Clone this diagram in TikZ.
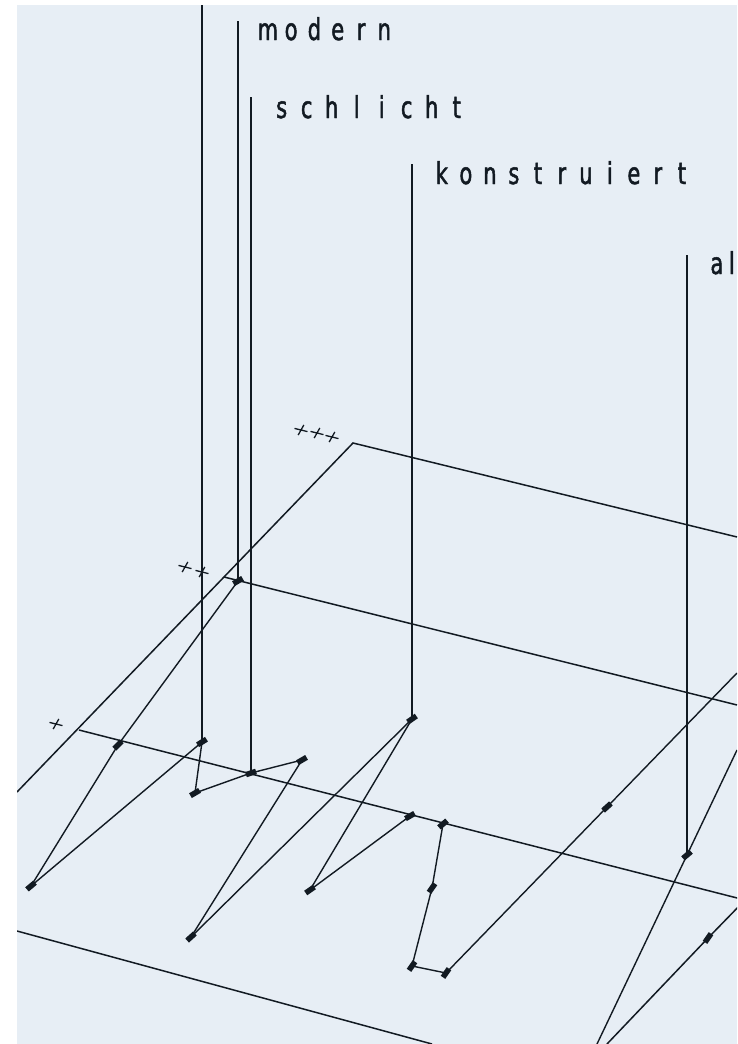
\documentclass[tikz,border=0pt]{standalone}
\usepackage{fontspec}
\newfontfamily\plotfont[FakeStretch=0.7,FakeBold=1.6]{DejaVu Sans}
\usetikzlibrary{calc}
\newlength\cellw
\def\plotchars#1{\ifx#1\relax\else\makebox[\cellw][c]{#1}\expandafter\plotchars\fi}
\newcommand\plotword[2]{\setlength\cellw{#1}\plotchars#2\relax}
\definecolor{bg}{HTML}{E7EEF5}
\definecolor{ink}{HTML}{121A22}
\newcommand\plotplus[1]{\draw[plus] ($(#1)+(-6.5,-1.6)$) -- ($(#1)+(6.5,1.6)$) ($(#1)+(2.8,-5)$) -- ($(#1)+(-2.8,5)$);}
\begin{document}
\begin{tikzpicture}[x=1pt,y=-1pt,
  ln/.style={draw=ink,line width=1.4pt},
  edge/.style={draw=ink,line width=1.5pt},
  mk/.style={rectangle,fill=ink,minimum width=10.5pt,minimum height=5.5pt,inner sep=0pt,rotate=#1},
  mk/.default=38,
  lbl/.style={inner sep=0pt,anchor=base west,text=ink,font=\plotfont\fontsize{30}{30}\selectfont},
  plus/.style={draw=ink,line width=1.3pt}]
\useasboundingbox (0,0) rectangle (737,1044);
\fill[white] (0,0) rectangle (737,1044);
\fill[bg] (17,5) rectangle (737,1044);
\begin{scope}
\clip (17,5) rectangle (737,1044);
% plane geometry
\coordinate (p3) at (353,443);
\coordinate (dl) at (17,792);
\coordinate (p3r) at (737,537);
\coordinate (p2) at (224,577);
\coordinate (p2r) at (737,705);
\coordinate (p1) at (79,730);
\coordinate (p1c) at (745,900);
\coordinate (f1) at (17,931);
\coordinate (f1r) at (432,1044);
\coordinate (b2) at (607,1044);
\draw[edge] (dl) -- (p3) -- (p3r);
\draw[edge] (p2) -- (p2r);
\draw[edge] (p1) -- (p1c);
\draw[edge] (f1) -- (f1r);
% marks
\node[mk=40] (m1) at (31,886) {};
\node[mk=45] (m2) at (118,745) {};
\node[mk=32] (m3) at (202,742) {};
\node[mk=30] (m4) at (195,793) {};
\node[mk=18] (m5) at (251,773) {};
\node[mk=30] (m6) at (302,760) {};
\node[mk=42] (m7) at (191,937) {};
\node[mk=35] (m8) at (310,890) {};
\node[mk=35] (m9) at (412,719) {};
\node[mk=30] (m10) at (410,816) {};
\node[mk=40] (m11) at (443,824) {};
\node[mk=55] (m12) at (432,888) {};
\node[mk=55] (m13) at (412,966) {};
\node[mk=55] (m14) at (446,973) {};
\node[mk=42] (m15) at (607,807) {};
\node[mk=40] (m16) at (687,855) {};
\node[mk=55] (m17) at (708,938) {};
\node[mk=30] (m18) at (238,581) {};
% free ends
\coordinate (r1) at (737,673);
\coordinate (r2) at (737,750);
\coordinate (b1) at (597,1044);
\coordinate (t0) at (202,5);
\coordinate (t1) at (238,21);
\coordinate (t2) at (251,97);
\coordinate (t3) at (412,164);
\coordinate (t4) at (687,255);
% verticals
\draw[ln] (t0) -- (m3.center);
\draw[ln] (t1) -- (m18.center);
\draw[ln] (t2) -- (m5.center);
\draw[ln] (t3) -- (m9.center);
\draw[ln] (t4) -- (m16.center);
% data connectors
\draw[ln] (m1.center) -- (m2.center);
\draw[ln] (m2.center) -- (m18.center);
\draw[ln] (m1.center) -- (m3.center);
\draw[ln] (m3.center) -- (m4.center);
\draw[ln] (m4.center) -- (m5.center);
\draw[ln] (m5.center) -- (m6.center);
\draw[ln] (m6.center) -- (m7.center);
\draw[ln] (m7.center) -- (m9.center);
\draw[ln] (m8.center) -- (m9.center);
\draw[ln] (m8.center) -- (m10.center);
\draw[ln] (m11.center) -- (m12.center);
\draw[ln] (m12.center) -- (m13.center);
\draw[ln] (m13.center) -- (m14.center);
\draw[ln] (m14.center) -- (m15.center);
\draw[ln] (m15.center) -- (r1);
\draw[ln] (r2) -- (m16.center);
\draw[ln] (m16.center) -- (b1);
\draw[edge] (p1c) -- (m17.center);
\draw[edge] (m17.center) -- (b2);
% level pluses
\plotplus{56,724}
\plotplus{185,567}
\plotplus{202,572}
\plotplus{301,430}
\plotplus{317,433}
\plotplus{332,437}
% labels
\node[lbl] (lmodern) at (256,40) {\plotword{23.3pt}{modern}};
\node[lbl] (lschlicht) at (269,118) {\plotword{25pt}{schlicht}};
\node[lbl] (lkonstr) at (429.7,184) {\plotword{24pt}{konstruiert}};
\node[lbl] (lal) at (709.2,274) {\plotword{15pt}{al}};
\end{scope}
\end{tikzpicture}
\end{document}
